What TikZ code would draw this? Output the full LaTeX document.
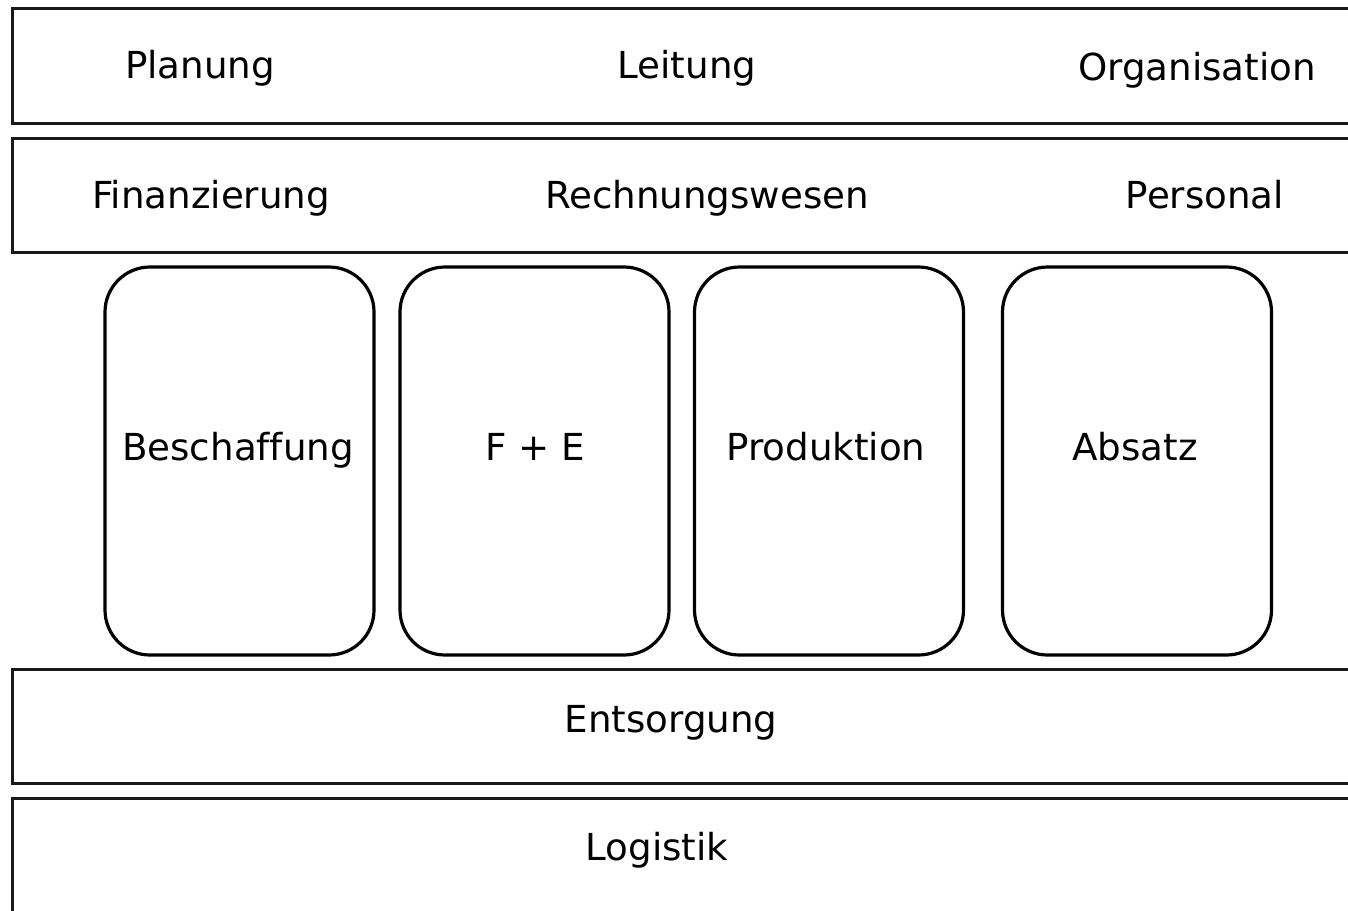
\documentclass[tikz,border=0pt]{standalone}
\usepackage{fontspec}
\setmainfont[Ligatures=NoCommon]{DejaVu Sans}
\begin{document}
\begin{tikzpicture}[x=1pt,y=-1pt,
  band/.style={draw=black!90,line width=3pt},
  func/.style={draw=black,line width=3.2pt,rounded corners=45pt,minimum width=269pt,minimum height=388pt,inner sep=0pt},
  lbl/.style={anchor=base,inner sep=0pt,font=\fontsize{37.2}{41}\selectfont}]
\useasboundingbox (0,0) rectangle (1348,910);
\fill[white] (0,0) rectangle (1348,910);
\clip (0,0) rectangle (1348,910);
\draw[band] (12,8) rectangle (1365,123);
\draw[band] (12,138) rectangle (1365,252);
\draw[band] (12,669) rectangle (1365,783);
\draw[band] (12,798) rectangle (1365,935);
\node[lbl] (planung) at (200,78) {Planung};
\node[lbl] (leitung) at (687,78) {Leitung};
\node[lbl] (org) at (1197,80) {Organisation};
\node[lbl] (fin) at (211,208) {Finanzierung};
\node[lbl] (rw) at (707,208) {Rechnungswesen};
\node[lbl] (pers) at (1205,208) {Personal};
\node[func] (b1) at (239.5,461) {};
\node[func] (b2) at (534.5,461) {};
\node[func] (b3) at (829,461) {};
\node[func] (b4) at (1137,461) {};
\node[lbl] (besch) at (238,460) {Beschaffung};
\node[lbl] (fe) at (535,460) {F + E};
\node[lbl] (prod) at (826,460) {Produktion};
\node[lbl] (abs) at (1135,460) {Absatz};
\node[lbl] (ents) at (671,732) {Entsorgung};
\node[lbl] (log) at (657,860) {Logistik};
\end{tikzpicture}
\end{document}
